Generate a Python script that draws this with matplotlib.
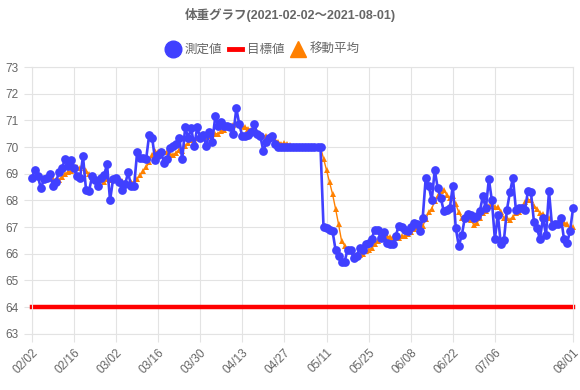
import numpy as np
import pandas as pd
import matplotlib
matplotlib.use("Agg")
import matplotlib.pyplot as plt
from matplotlib.lines import Line2D

# daily weight, 2021-02-02 .. 2021-08-01
dates = pd.date_range("2021-02-02", "2021-08-01", freq="D")
weight = [
    68.85, 69.14, 68.9, 68.45, 68.8, 68.85, 69.0, 68.55, 68.7, 69.05,
    69.2, 69.55, 69.3, 69.5, 69.2, 68.9, 68.85, 69.65, 68.4, 68.35,
    68.9, 68.75, 68.55, 68.85, 68.95, 69.35, 68.0, 68.8, 68.85, 68.7,
    68.4, 68.6, 69.05, 68.55, 68.55, 69.8, 69.6, 69.6, 69.55, 70.45,
    70.35, 69.5, 69.7, 69.8, 69.4, 69.55, 69.95, 70.05, 70.1, 70.35,
    69.55, 70.75, 70.35, 70.7, 70.05, 70.75, 70.35, 70.45, 70.05, 70.55,
    70.2, 71.15, 70.8, 70.95, 70.8, 70.8, 70.75, 70.5, 71.45, 70.85,
    70.4, 70.4, 70.45, 70.55, 70.85, 70.5, 70.4, 69.85, 70.2, 70.35,
    70.4, 70.1, 70.0, 70.0, 70.0, 70.0, 70.0, 70.0, 70.0, 70.0,
    70.0, 70.0, 70.0, 70.0, 70.0, 70.0, 70.0, 67.0, 66.95, 66.9,
    66.85, 66.15, 65.9, 65.7, 65.7, 66.15, 66.15, 65.85, 65.9, 66.2,
    66.15, 66.35, 66.4, 66.55, 66.9, 66.9, 66.6, 66.8, 66.4, 66.35,
    66.35, 66.65, 67.05, 67.0, 66.9, 66.85, 67.0, 67.15, 67.1, 66.85,
    67.35, 68.85, 68.55, 68.0, 69.15, 68.45, 68.1, 67.6, 67.65, 67.7,
    68.55, 66.95, 66.3, 66.7, 67.35, 67.5, 67.45, 67.35, 67.4, 67.6,
    68.15, 67.7, 68.8, 68.0, 66.55, 67.45, 66.35, 66.5, 67.65, 68.3,
    68.85, 67.65, 67.7, 67.7, 67.65, 68.35, 68.3, 67.2, 66.95, 66.55,
    67.35, 66.7, 68.35, 67.05, 67.1, 67.1, 67.35, 66.55, 66.4, 66.85,
    67.7,
]
# moving average (starts on day 7)
moving_avg = [np.nan] * 6 + [
    68.86, 68.81, 68.75, 68.77, 68.88, 68.99, 69.05, 69.12, 69.21, 69.24,
    69.21, 69.28, 69.11, 68.98, 68.89, 68.83, 68.78, 68.78, 68.68, 68.81,
    68.76, 68.75, 68.76, 68.79, 68.72, 68.67, 68.63, 68.71, 68.67, 68.81,
    68.94, 69.11, 69.24, 69.44, 69.7, 69.84, 69.82, 69.85, 69.82, 69.82,
    69.75, 69.71, 69.79, 69.89, 69.85, 70.04, 70.16, 70.26, 70.26, 70.36,
    70.36, 70.49, 70.39, 70.41, 70.34, 70.5, 70.51, 70.59, 70.64, 70.75,
    70.78, 70.82, 70.86, 70.87, 70.79, 70.74, 70.69, 70.66, 70.71, 70.57,
    70.51, 70.43, 70.4, 70.39, 70.36, 70.26, 70.19, 70.13, 70.15, 70.12,
    70.07, 70.01, 70.0, 70.0, 70.0, 70.0, 70.0, 70.0, 70.0, 70.0,
    70.0, 69.57, 69.14, 68.69, 68.24, 67.69, 67.11, 66.49, 66.31, 66.19,
    66.09, 65.94, 65.91, 65.95, 66.01, 66.11, 66.14, 66.2, 66.35, 66.49,
    66.55, 66.64, 66.65, 66.64, 66.61, 66.58, 66.6, 66.66, 66.67, 66.74,
    66.83, 66.94, 67.01, 66.98, 67.03, 67.31, 67.55, 67.69, 67.98, 68.17,
    68.35, 68.39, 68.21, 68.09, 68.17, 67.86, 67.55, 67.35, 67.31, 67.29,
    67.26, 67.09, 67.15, 67.34, 67.54, 67.59, 67.78, 67.86, 67.74, 67.75,
    67.57, 67.34, 67.33, 67.26, 67.38, 67.54, 67.57, 67.76, 67.93, 68.03,
    68.03, 67.79, 67.69, 67.53, 67.48, 67.34, 67.34, 67.16, 67.15, 67.17,
    67.29, 67.17, 67.13, 66.91, 67.01,
]
target = [64.0] * len(dates)

tick_labels = ["02/02", "02/16", "03/02", "03/16", "03/30", "04/13", "04/27",
               "05/11", "05/25", "06/08", "06/22", "07/06", "08/01"]

BLUE = "#4040ff"
ORANGE = "#ff8000"
RED = "#ff0000"
GRID = "#e3e3e3"
TXT = "#666666"
FONT = ["Liberation Sans", "Noto Sans CJK JP"]

plt.rcParams["font.family"] = FONT

fig = plt.figure(figsize=(5.8, 3.9), dpi=100)
ax = fig.add_axes([0.055, 0.144, 0.933, 0.684])

x = np.arange(len(dates))
ax.plot(x, target, color=RED, lw=3.2, zorder=2, clip_on=False)
ax.plot(x, moving_avg, color=ORANGE, lw=1.0, marker="^", ms=5,
        markeredgewidth=0, zorder=3, clip_on=False)
ax.plot(x, weight, color=BLUE, lw=1.9, marker="o", ms=6.3,
        markeredgewidth=0, zorder=4, clip_on=False)

# tick positions from the label dates
year_dates = [pd.Timestamp("2021-" + t.replace("/", "-")) for t in tick_labels]
tick_pos = [(d - dates[0]).days for d in year_dates]
ax.set_xticks(tick_pos)
ax.set_xticklabels(tick_labels, rotation=45, ha="right", rotation_mode="anchor",
                   fontsize=8.5, color=TXT)
ax.set_xlim(0, len(dates) - 1)
ax.set_ylim(63, 73)
ax.set_yticks(range(63, 74))
ax.tick_params(axis="y", labelsize=8.5, labelcolor=TXT, length=6, color=GRID)
ax.tick_params(axis="x", length=6, color=GRID, pad=3)
ax.grid(True, color=GRID, lw=0.8)
ax.set_axisbelow(True)
for s in ax.spines.values():
    s.set_color(GRID)
    s.set_linewidth(0.8)

fig.text(0.5, 1 - 15 / 390, "体重グラフ(2021-02-02～2021-08-01)", ha="center",
         va="center", fontsize=9, fontweight="bold", color=TXT)

handles = [
    Line2D([], [], color=BLUE, marker="o", ls="none", ms=12),
    Line2D([], [], color=RED, lw=3.5),
    Line2D([], [], color=ORANGE, marker="^", ls="none", ms=11),
]
leg = fig.legend(handles, ["測定値", "目標値", "移動平均"], loc="center",
                 bbox_to_anchor=(263 / 580, 1 - 50 / 390), ncol=3, frameon=False,
                 fontsize=9, handlelength=1.1, handletextpad=0.4,
                 columnspacing=0.5)
for t in leg.get_texts():
    t.set_color(TXT)

fig.savefig("out.png", dpi=100)
